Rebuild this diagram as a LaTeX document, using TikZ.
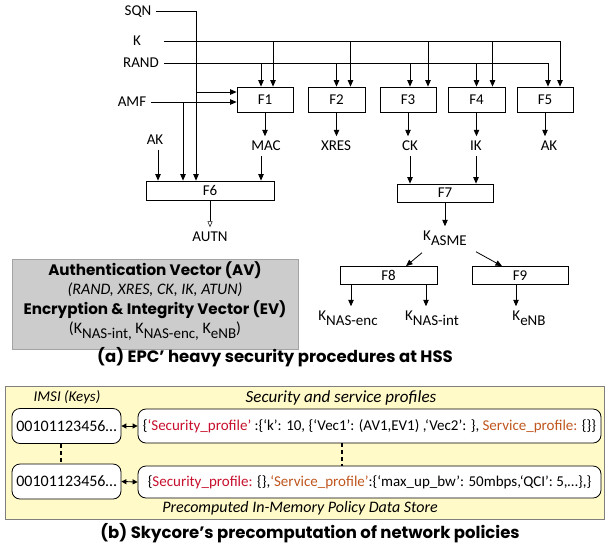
\documentclass[tikz,border=0pt]{standalone}
\usepackage{fontspec}
\setmainfont{Carlito}
\newfontfamily\capfont{Poppins}
\usetikzlibrary{arrows.meta, positioning, calc}
\definecolor{avfill}{HTML}{CCCCCC}
\definecolor{avline}{HTML}{A3A3A3}
\definecolor{storefill}{HTML}{FFFAC8}
\definecolor{storeline}{HTML}{7F7F7F}
\definecolor{secred}{HTML}{C8102E}
\definecolor{servorange}{HTML}{C0561E}
\newcommand{\lblsize}{\fontsize{15}{17}\selectfont}
\newcommand{\ksub}[1]{K\raisebox{-0.6ex}{\fontsize{15}{16}\selectfont #1}}

\begin{document}
\begin{tikzpicture}[x=1pt, y=-1pt,
    fbox/.style={draw, line width=0.8pt, minimum width=56pt, minimum height=25pt, inner sep=0pt, font=\lblsize},
    wbox/.style={draw, line width=0.8pt, minimum height=18pt, inner sep=0pt, font=\lblsize},
    lbl/.style={inner sep=0pt, outer sep=5pt, text height=9.5pt, text depth=0pt, font=\lblsize},
    arr/.style={line width=0.8pt, -{Triangle[length=6.5pt,width=5.5pt]}},
    keybox/.style={draw, line width=0.8pt, rounded corners=8pt, fill=white, minimum width=109pt, minimum height=35pt, inner sep=0pt, font=\fontsize{16}{18}\selectfont},
    profbox/.style={draw, line width=0.8pt, rounded corners=8pt, fill=white, minimum width=463pt, minimum height=34pt, inner sep=0pt, font=\fontsize{15}{17}\selectfont},
    boldtitle/.style={font=\capfont\bfseries\fontsize{15.2}{17}\selectfont, inner sep=0pt},
    boldcap/.style={font=\capfont\bfseries\fontsize{16.5}{18}\selectfont, inner sep=0pt},
    dots/.style={line width=1.6pt, dash pattern=on 4pt off 3pt}
  ]
  \useasboundingbox (0,0) rectangle (605,550);

  % Inputs
  \node[lbl] (sqn) at (138,11) {SQN};
  \node[lbl] (k) at (137,41) {K};
  \node[lbl] (rand) at (141,63) {RAND};
  \node[lbl] (amf) at (132,102) {AMF};
  \node[lbl] (akin) at (155,140) {AK};

  % Functions F1--F5
  \node[fbox] (f1) at (265,99.5) {F1};
  \node[fbox, minimum width=57pt] (f2) at (336.5,99.5) {F2};
  \node[fbox] (f3) at (408,99.5) {F3};
  \node[fbox, minimum width=57pt] (f4) at (476.5,99.5) {F4};
  \node[fbox] (f5) at (545,99.5) {F5};

  % Outputs
  \node[lbl] (mac) at (266,146) {MAC};
  \node[lbl] (xres) at (336,146) {XRES};
  \node[lbl] (ck) at (410,146) {CK};
  \node[lbl] (ik) at (476,146) {IK};
  \node[lbl] (ak) at (549,146) {AK};

  % Wide functions
  \node[wbox, minimum width=128pt, minimum height=19pt] (f6) at (210,190.5) {F6};
  \node[wbox, minimum width=96pt] (f7) at (445,193) {F7};
  \node[wbox, minimum width=97pt] (f8) at (388.5,275.5) {F8};
  \node[wbox, minimum width=96pt] (f9) at (520,275.5) {F9};

  \node[lbl] (autn) at (210,237) {AUTN};
  \node[lbl] (kasme) at (445,236) {\ksub{ASME}};
  \node[lbl] (nasenc) at (348,316) {\ksub{NAS-enc}};
  \node[lbl] (nasint) at (432,316) {\ksub{NAS-int}};
  \node[lbl] (kenb) at (529,316) {\ksub{eNB}};

  % K and RAND feed every function
  \foreach \f/\r/\kk in {f1/-4/8, f2/0/14, f3/2/20, f4/0/16, f5/3/15} {
    \coordinate (\f-r) at ([xshift=\r pt]\f.north);
    \coordinate (\f-k) at ([xshift=\kk pt]\f.north);
  }
  \draw[arr] (rand.east) -| (f5-r);
  \draw[arr] (rand.east |- k.east) -| (f5-k);
  \foreach \f in {f1, f2, f3, f4} {
    \draw[arr] (\f-r |- rand.east) -- (\f-r);
    \draw[arr] (\f-k |- k.east) -- (\f-k);
  }

  % SQN, AMF, AK into F1 and F6
  \coordinate (f6-s) at ([xshift=-14pt]f6.north);
  \coordinate (f6-a) at ([xshift=-27pt]f6.north);
  \coordinate (f6-k) at ([xshift=-52pt]f6.north);
  \coordinate (f6-m) at ([xshift=51pt]f6.north);
  \coordinate (f1-s) at ([yshift=7.5pt]f1.west);
  \draw[arr] (sqn.east) -| (f6-s);
  \draw[arr] (f6-s |- f1-s) -- (f1-s);
  \draw[arr] (amf.east) -- (amf.east -| f1.west);
  \draw[arr] (f6-a |- amf.east) -- (f6-a);
  \draw[arr] (f6-k |- akin.south) -- (f6-k);
  \draw[arr] (f6-m |- mac.south) -- (f6-m);

  \foreach \f/\o in {f1/mac, f2/xres, f3/ck, f4/ik, f5/ak}
    \draw[arr] (\f.south) -- (\f.south |- \o.north);

  \draw[line width=0.5pt, -{Triangle[open,length=6pt,width=5pt]}] (f6.south) -- (f6.south |- autn.north);

  % Key derivation
  \draw[arr] (ck.south) -- (ck.south |- f7.north);
  \draw[arr] (ik.south) -- (ik.south |- f7.north);
  \draw[arr] (f7.south) -- (f7.south |- kasme.north);
  \draw[arr] ($(kasme.south)+(-23,7)$) -- ([xshift=17.5pt]f8.north);
  \draw[arr] ($(kasme.south)+(31,6)$) -- ([xshift=-18pt]f9.north);
  \coordinate (f8-e) at ([xshift=-37.5pt]f8.south);
  \coordinate (f8-i) at ([xshift=37.5pt]f8.south);
  \coordinate (f9-b) at ([xshift=-4pt]f9.south);
  \draw[arr] (f8-e) -- (f8-e |- nasenc.north);
  \draw[arr] (f8-i) -- (f8-i |- nasint.north);
  \draw[arr] (f9-b) -- (f9-b |- kenb.north);

  % Vectors
  \node[draw=avline, fill=avfill, line width=0.8pt, minimum width=286pt, minimum height=90pt] (avbox) at (155,304) {};
  \node[boldtitle] (avtitle) at (155,270) {Authentication Vector (AV)};
  \node[font=\itshape\fontsize{16}{18}\selectfont, inner sep=0pt] (avlist) at (155,290) {(RAND, XRES, CK, IK, ATUN)};
  \node[boldtitle] (evtitle) at (155,309.5) {Encryption \& Integrity Vector (EV)};
  \node[font=\fontsize{16}{18}\selectfont, inner sep=0pt] (evlist) at (155,331) {(\ksub{NAS-int,} \ksub{NAS-enc,} \ksub{eNB})};
  \node[boldcap] (capa) at (275,357) {(a) EPC’ heavy security procedures at HSS};

  % Policy data store
  \node[draw=storeline, fill=storefill, line width=0.8pt, minimum width=599pt, minimum height=133pt, inner sep=0pt] (store) at (304.5,452.5) {};
  \node[font=\itshape\fontsize{15}{17}\selectfont, inner sep=0pt] (imsi) at (67,397) {IMSI (Keys)};
  \node[font=\itshape\fontsize{17}{19}\selectfont, inner sep=0pt] (profiles) at (341,398) {Security and service profiles};
  \node[keybox] (key1) at (66.5,426) {00101123456…};
  \node[keybox] (key2) at (66.5,481.5) {00101123456…};
  \node[profbox] (prof1) at (369.5,426) {\{{\color{secred}‘Security\_profile’} :\{‘k’: 10, \{‘Vec1’: (AV1,EV1) ,‘Vec2’: \}, {\color{servorange}Service\_profile:} \{\}\}};
  \node[profbox, minimum height=32pt] (prof2) at (369.5,482) {\{{\color{secred}Security\_profile:} \{\},{\color{servorange}‘Service\_profile’}:\{‘max\_up\_bw’: 50mbps,‘QCI’: 5,…\},\}};
  \draw[line width=0.9pt, {Triangle[length=5pt,width=5pt]}-{Triangle[length=5pt,width=5pt]}] (key1.east) -- (prof1.west);
  \draw[line width=0.9pt, {Triangle[length=5pt,width=5pt]}-{Triangle[length=5pt,width=5pt]}] (key2.east) -- (prof2.west);
  \draw[dots] ([xshift=-5.5pt]key1.south) -- ([xshift=-5.5pt]key2.north);
  \draw[dots] ([xshift=-27.5pt]prof1.south) -- ([xshift=-27.5pt]prof2.north);
  \node[font=\itshape\fontsize{16}{18}\selectfont, inner sep=0pt] (store-lbl) at (300,508) {Precomputed In-Memory Policy Data Store};
  \node[boldcap] (capb) at (310,533) {(b) Skycore’s precomputation of network policies};
\end{tikzpicture}
\end{document}
